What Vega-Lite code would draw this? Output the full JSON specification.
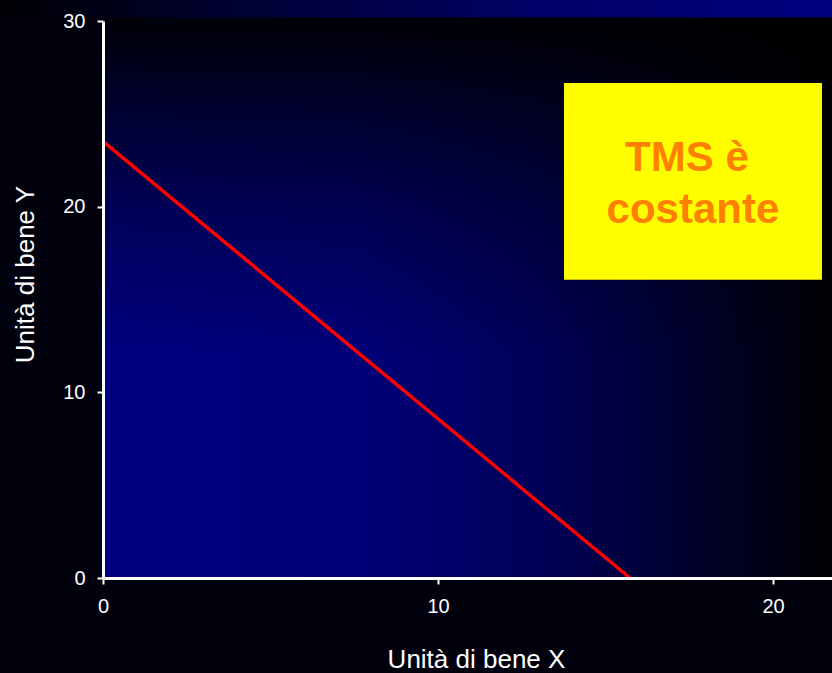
{
  "$schema": "https://vega.github.io/schema/vega-lite/v6.json",
  "width": 729,
  "height": 557,
  "autosize": "none",
  "padding": {"left": 103, "top": 21, "right": 0, "bottom": 95},
  "background": "#01010e",
  "config": {"view": {"stroke": null}, "font": "Liberation Sans"},
  "layer": [
    {
      "data": {"values": [{"x": 0, "x2": 21.76, "y": 0, "y2": 30.2}]},
      "mark": {
        "type": "rect",
        "fill": {
          "gradient": "linear", "x1": 0, "y1": 0, "x2": 1, "y2": 0,
          "stops": [
            {"offset": 0, "color": "#000080"},
            {"offset": 0.35, "color": "#000078"},
            {"offset": 0.6, "color": "#000058"},
            {"offset": 0.82, "color": "#00002a"},
            {"offset": 1, "color": "#000005"}
          ]
        }
      },
      "encoding": {
        "x": {
          "field": "x", "type": "quantitative",
          "scale": {"domain": [0, 21.76], "nice": false, "zero": false},
          "axis": {
            "values": [0, 10, 20], "grid": false, "zindex": 1,
            "domainColor": "#ffffff", "domainWidth": 3,
            "tickColor": "#ffffff", "tickWidth": 2, "tickSize": 6,
            "labelColor": "#ffffff", "labelFontSize": 20, "labelFont": "Liberation Sans", "labelPadding": 12,
            "labelFlush": false,
            "title": "Unità di bene X", "titleColor": "#ffffff", "titleFontSize": 26, "titleFontWeight": "normal",
            "titleFont": "Liberation Sans",
            "titleX": 373, "titleY": 89, "titleAlign": "center", "titleBaseline": "alphabetic"
          }
        },
        "x2": {"field": "x2"},
        "y": {
          "field": "y", "type": "quantitative",
          "scale": {"domain": [0, 30], "nice": false, "zero": false},
          "axis": {
            "values": [0, 10, 20, 30], "grid": false, "zindex": 1,
            "domainColor": "#ffffff", "domainWidth": 3,
            "tickColor": "#ffffff", "tickWidth": 2, "tickSize": 6,
            "labelColor": "#ffffff", "labelFontSize": 20, "labelFont": "Liberation Sans", "labelPadding": 12,
            "labelFlush": false,
            "title": "Unità di bene Y", "titleColor": "#ffffff", "titleFontSize": 26, "titleFontWeight": "normal",
            "titleFont": "Liberation Sans",
            "titleX": -70, "titleY": 253, "titleAngle": 270, "titleAlign": "center", "titleBaseline": "alphabetic"
          }
        },
        "y2": {"field": "y2"}
      }
    },
    {
      "data": {"values": [{"x": 0, "x2": 21.76, "y": 0, "y2": 30.2}]},
      "mark": {
        "type": "rect",
        "fill": {
          "gradient": "linear", "x1": 0, "y1": 0, "x2": 0, "y2": 1,
          "stops": [
            {"offset": 0, "color": "rgba(0,0,0,0.95)"},
            {"offset": 0.15, "color": "rgba(0,0,0,0.65)"},
            {"offset": 0.35, "color": "rgba(0,0,0,0.3)"},
            {"offset": 0.6, "color": "rgba(0,0,0,0)"},
            {"offset": 1, "color": "rgba(0,0,0,0)"}
          ]
        }
      },
      "encoding": {
        "x": {"field": "x", "type": "quantitative"},
        "x2": {"field": "x2"},
        "y": {"field": "y", "type": "quantitative"},
        "y2": {"field": "y2"}
      }
    },
    {
      "data": {"values": [{"x": -3.075, "x2": 21.76, "y": 30.2, "y2": 31.2}]},
      "mark": {
        "type": "rect",
        "fill": {
          "gradient": "linear", "x1": 0, "y1": 0, "x2": 1, "y2": 0,
          "stops": [
            {"offset": 0, "color": "#000005"},
            {"offset": 0.15, "color": "#00001c"},
            {"offset": 0.4, "color": "#000045"},
            {"offset": 0.65, "color": "#000068"},
            {"offset": 1, "color": "#000080"}
          ]
        }
      },
      "encoding": {
        "x": {"field": "x", "type": "quantitative"},
        "x2": {"field": "x2"},
        "y": {"field": "y", "type": "quantitative"},
        "y2": {"field": "y2"}
      }
    },
    {
      "data": {"values": [{"x": 0, "y": 23.52}, {"x": 15.73, "y": 0}]},
      "mark": {"type": "line", "color": "#ff0000", "strokeWidth": 3.5},
      "encoding": {
        "x": {"field": "x", "type": "quantitative"},
        "y": {"field": "y", "type": "quantitative"}
      }
    },
    {
      "data": {"values": [{"x": 13.76, "x2": 21.46, "y": 16.07, "y2": 26.66}]},
      "mark": {"type": "rect", "fill": "#ffff00"},
      "encoding": {
        "x": {"field": "x", "type": "quantitative"},
        "x2": {"field": "x2"},
        "y": {"field": "y", "type": "quantitative"},
        "y2": {"field": "y2"}
      }
    },
    {
      "data": {"values": [
        {"x": 17.43, "y": 21.9, "label": "TMS è"},
        {"x": 17.61, "y": 19.13, "label": "costante"}
      ]},
      "mark": {"type": "text", "font": "Liberation Sans", "fontSize": 42, "fontWeight": "bold", "color": "#ff8000", "align": "center", "baseline": "alphabetic"},
      "encoding": {
        "x": {"field": "x", "type": "quantitative"},
        "y": {"field": "y", "type": "quantitative"},
        "text": {"field": "label"}
      }
    }
  ]
}
